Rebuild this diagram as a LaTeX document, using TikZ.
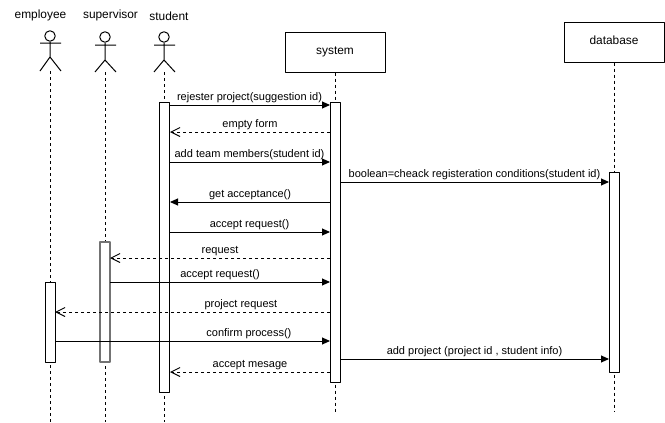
\documentclass[tikz,border=0pt]{standalone}
\usepackage{fontspec}
\setmainfont{Liberation Sans}
\usetikzlibrary{arrows.meta}
\tikzset{l/.style={font=\fontsize{11}{11}\selectfont, inner sep=0pt, text height=7pt, text depth=2pt}}
\tikzset{m/.style={font=\fontsize{11.9}{11.9}\selectfont, inner sep=0pt, text height=7pt, text depth=2pt}}
\tikzset{lab/.style={l, above=2.4pt}}
\tikzset{life/.style={dash pattern=on 3pt off 3pt}}
\tikzset{bar/.style={draw, fill=white, minimum width=10pt, inner sep=0pt}}
\tikzset{boxed/.style={draw, fill=white, minimum width=100pt, minimum height=40pt, m}}
\tikzset{call/.style={-{Triangle[length=8pt,width=7pt]}}}
\tikzset{back/.style={dash pattern=on 3pt off 3pt, -{Straight Barb[length=9pt,width=9pt]}}}

\begin{document}
\begin{tikzpicture}[x=1pt, y=-1pt, line width=1pt, line join=round]
            \useasboundingbox[fill=white] (0,0) rectangle (665,423);

            % heads and names
            \node [m] (empName) at (40.5,16) {employee};
            \node [m] (supName) at (110.5,16) {supervisor};
            \node [m] (stuName) at (169,18) {student};
            \node [draw, circle, minimum size=10.5pt, inner sep=0pt] (empHead) at (50,36) {};
            \node [draw, circle, minimum size=10.5pt, inner sep=0pt] (supHead) at (105,37) {};
            \node [draw, circle, minimum size=10.5pt, inner sep=0pt] (stuHead) at (164,37) {};

            \coordinate (empFoot) at (50,71);
            \coordinate (supFoot) at (105,72);
            \coordinate (stuFoot) at (164,72);
            \draw (empHead) -- (50,57) (40,43) -- (61,43) (40,71) -- (50,57) -- (61,71);
            \draw (supHead) -- (105,60) (95,45) -- (116,45) (95,72) -- (105,60) -- (116,72);
            \draw (stuHead) -- (164,60) (154,45) -- (175,45) (154,72) -- (164,60) -- (175,72);

            \node [boxed] (sysBox) at (335,52) {system};
            \node [boxed] (dbBox) at (614,42) {database};

            % lifelines
            \coordinate (empEnd) at (50,422);
            \coordinate (supEnd) at (105,422);
            \coordinate (stuEnd) at (164,422);
            \coordinate (sysEnd) at (335,412);
            \coordinate (dbEnd) at (614,412);
            \draw [life] (empFoot) -- (empEnd);
            \draw [life] (supFoot) -- (supEnd);
            \draw [life] (stuFoot) -- (stuEnd);
            \draw [life] (sysBox) -- (sysEnd);
            \draw [life] (dbBox) -- (dbEnd);

            % activations
            \node [bar, minimum height=80pt] (empBar) at (50,322) {};
            \node [bar, draw=black!55, line width=1.3pt, minimum height=120pt] (supBar) at (105,302) {};
            \node [bar, minimum height=290pt] (stuBar) at (164,247) {};
            \node [bar, minimum height=280pt] (sysBar) at (335,242) {};
            \node [bar, minimum height=200pt] (dbBar) at (614,272) {};

            % messages
            \coordinate (a1) at (169,105);
            \coordinate (b1) at (330,105);
            \draw [call] (a1) -- node [lab] (t1) {rejester project(suggestion id)} (b1);

            \coordinate (a2) at (330,132);
            \coordinate (b2) at (170,132);
            \draw [back] (a2) -- node [lab] (t2) {empty form} (b2);

            \coordinate (a3) at (169,162);
            \coordinate (b3) at (330,162);
            \draw [call] (a3) -- node [lab] (t3) {add team members(student id)} (b3);

            \coordinate (a4) at (340,182);
            \coordinate (b4) at (609,182);
            \draw [call] (a4) -- node [lab] (t4) {boolean=cheack registeration conditions(student id)} (b4);

            \coordinate (a5) at (330,202);
            \coordinate (b5) at (170,202);
            \draw [call] (a5) -- node [lab] (t5) {get acceptance()} (b5);

            \coordinate (a6) at (169,232);
            \coordinate (b6) at (330,232);
            \draw [call] (a6) -- node [lab] (t6) {accept request()} (b6);

            \coordinate (a7) at (330,258);
            \coordinate (b7) at (110,258);
            \draw [back] (a7) -- node [lab] (t7) {request} (b7);

            \coordinate (a8) at (110,282);
            \coordinate (b8) at (330,282);
            \draw [call] (a8) -- node [lab] (t8) {accept request()} (b8);

            \coordinate (a9) at (330,312);
            \coordinate (b9) at (55,312);
            \draw [back] (a9) -- node [lab, pos=.324] (t9) {project request} (b9);

            \coordinate (a10) at (55,341);
            \coordinate (b10) at (330,341);
            \draw [call] (a10) -- node [lab, pos=.705] (t10) {confirm process()} (b10);

            \coordinate (a11) at (340,359);
            \coordinate (b11) at (609,359);
            \draw [call] (a11) -- node [lab] (t11) {add project (project id , student info)} (b11);

            \coordinate (a12) at (330,372);
            \coordinate (b12) at (170,372);
            \draw [back] (a12) -- node [lab] (t12) {accept mesage} (b12);
          \end{tikzpicture}
\end{document}
